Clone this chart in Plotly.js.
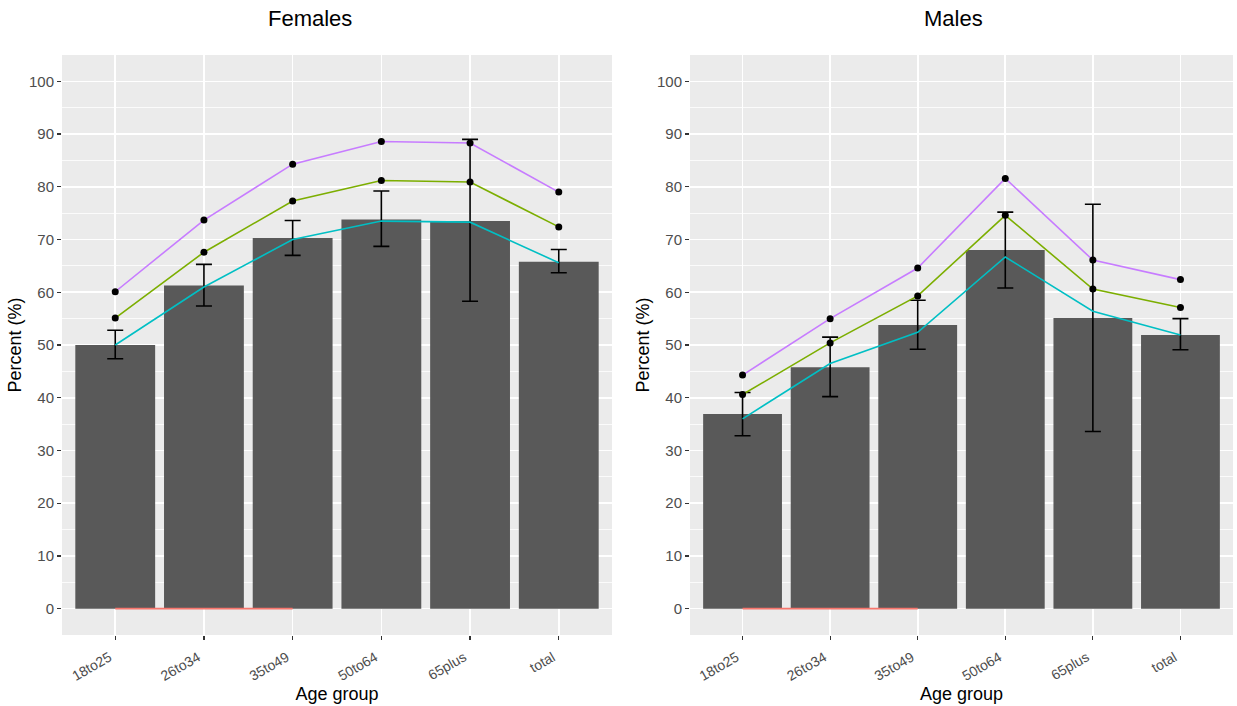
<!DOCTYPE html>
<html>
<head>
<meta charset="utf-8">
<script src="https://cdn.plot.ly/plotly-3.0.1.min.js"></script>
<style>html,body{margin:0;padding:0;background:#fff;}#chart{width:1237px;height:706px;}</style>
</head>
<body>
<div id="chart"></div>
<script>
// ---- data ----
const categories = ['18to25', '26to34', '35to49', '50to64', '65plus', 'total'];
const redCategories = ['18to25', '26to34', '35to49'];

const femaleBar    = [50.0, 61.3, 70.3, 73.8, 73.5, 65.8];
const femaleLow    = [47.4, 57.4, 67.0, 68.7, 58.3, 63.7];
const femaleHigh   = [52.8, 65.3, 73.6, 79.2, 89.0, 68.1];
const femalePurple = [60.1, 73.7, 84.3, 88.6, 88.3, 79.0];
const femaleGreen  = [55.1, 67.6, 77.3, 81.2, 80.9, 72.4];
const femaleCyan   = [50.0, 61.0, 70.0, 73.5, 73.3, 65.6];
const femaleRed    = [0, 0, 0];

const maleBar    = [36.9, 45.8, 53.8, 68.0, 55.1, 51.9];
const maleLow    = [32.8, 40.2, 49.2, 60.8, 33.6, 49.1];
const maleHigh   = [41.0, 51.5, 58.5, 75.2, 76.7, 55.0];
const malePurple = [44.3, 55.0, 64.6, 81.6, 66.1, 62.4];
const maleGreen  = [40.6, 50.4, 59.3, 74.6, 60.6, 57.1];
const maleCyan   = [36.0, 46.5, 52.4, 66.7, 56.4, 51.9];
const maleRed    = [0, 0, 0];

const yTicks = [0, 10, 20, 30, 40, 50, 60, 70, 80, 90, 100];

// ---- styles ----
const FONT = 'Liberation Sans, Arial, sans-serif';
const BAR = '#595959';
const RED = '#F8766D', GREEN = '#7CAE00', CYAN = '#00BFC4', PURPLE = '#C77CFF';

function panel(xa, ya, bar, low, high, purple, green, cyan, red) {
  const plus = bar.map((v, i) => high[i] - v);
  const minus = bar.map((v, i) => v - low[i]);
  const lineSpec = c => ({color: c, width: 1.6});
  return [
    {type: 'bar', x: categories, y: bar, xaxis: xa, yaxis: ya, width: 0.9,
     marker: {color: BAR, line: {width: 0}},
     error_y: {type: 'data', symmetric: false, array: plus, arrayminus: minus,
               color: '#000', thickness: 1.6, width: 8}},
    {type: 'scatter', mode: 'lines', x: redCategories, y: red, xaxis: xa, yaxis: ya,
     line: {color: RED, width: 1.6}},
    {type: 'scatter', mode: 'lines', x: categories, y: cyan, xaxis: xa, yaxis: ya,
     line: lineSpec(CYAN)},
    {type: 'scatter', mode: 'lines+markers', x: categories, y: green, xaxis: xa, yaxis: ya,
     line: lineSpec(GREEN), marker: {color: '#000', size: 7}},
    {type: 'scatter', mode: 'lines+markers', x: categories, y: purple, xaxis: xa, yaxis: ya,
     line: lineSpec(PURPLE), marker: {color: '#000', size: 7}}
  ];
}

const data = [].concat(
  panel('x', 'y', femaleBar, femaleLow, femaleHigh, femalePurple, femaleGreen, femaleCyan, femaleRed),
  panel('x2', 'y2', maleBar, maleLow, maleHigh, malePurple, maleGreen, maleCyan, maleRed)
);

const W = 1237, H = 706;
function xAxis(d0, d1, anchor) {
  return {
    domain: [d0 / W, d1 / W], anchor: anchor, type: 'category',
    categoryorder: 'array', categoryarray: categories,
    range: [-0.6, 5.6], showgrid: true, gridcolor: '#FFFFFF', gridwidth: 1.6,
    ticks: 'outside', ticklen: 4, tickwidth: 1.2, tickcolor: '#333333',
    tickangle: -30, tickfont: {family: FONT, size: 14, color: '#4D4D4D'},
    ticklabelshift: -6, ticklabelstandoff: 4,
    showline: false, zeroline: false, fixedrange: true,
    title: {text: 'Age group', font: {family: FONT, size: 18, color: '#000'}, standoff: 0}
  };
}
function yAxis(anchor) {
  return {
    domain: [1 - 635 / H, 1 - 55 / H], anchor: anchor, range: [-5, 105],
    tickvals: yTicks, ticktext: yTicks.map(String),
    showgrid: true, gridcolor: '#FFFFFF', gridwidth: 1.6,
    minor: {dtick: 5, tick0: 0, showgrid: true, gridcolor: '#FFFFFF', gridwidth: 0.8, ticks: ''},
    ticks: 'outside', ticklen: 4, tickwidth: 1.2, tickcolor: '#333333',
    tickfont: {family: FONT, size: 15, color: '#4D4D4D'},
    showline: false, zeroline: false, fixedrange: true,
    title: {text: 'Percent (%)', font: {family: FONT, size: 18, color: '#000'}, standoff: 2}
  };
}

const layout = {
  width: W, height: H,
  margin: {l: 0, r: 0, t: 0, b: 0, pad: 0},
  paper_bgcolor: '#FFFFFF', plot_bgcolor: '#EBEBEB',
  showlegend: false, hovermode: false, bargap: 0.1,
  font: {family: FONT},
  xaxis: xAxis(62, 612, 'y'),
  yaxis: yAxis('x'),
  xaxis2: xAxis(690, 1233, 'y2'),
  yaxis2: yAxis('x2'),
  annotations: [
    {text: 'Females', x: 310 / W, y: 1 - 19 / H, xref: 'paper', yref: 'paper',
     xanchor: 'center', yanchor: 'middle', showarrow: false,
     font: {family: FONT, size: 22, color: '#000'}},
    {text: 'Males', x: 953 / W, y: 1 - 19 / H, xref: 'paper', yref: 'paper',
     xanchor: 'center', yanchor: 'middle', showarrow: false,
     font: {family: FONT, size: 22, color: '#000'}}
  ]
};

Plotly.newPlot('chart', data, layout, {displayModeBar: false, staticPlot: true});
</script>
</body>
</html>
